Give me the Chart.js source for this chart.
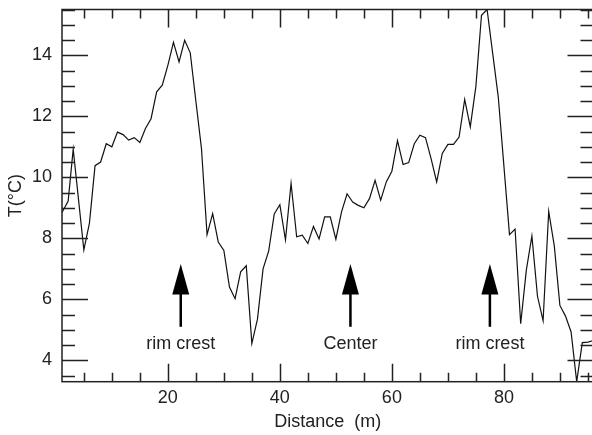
<!DOCTYPE html>
<html>
<head>
<meta charset="utf-8">
<script src="https://cdn.jsdelivr.net/npm/chart.js@4.4.1/dist/chart.umd.min.js"></script>
<style>
  html, body { margin: 0; padding: 0; background: #fff; overflow: hidden; }
  #wrap { position: relative; width: 600px; height: 435px; }
</style>
</head>
<body>
<div id="wrap"><canvas id="chart"></canvas></div>
<script>
// temperature profile across the crater
const distance = [1.1, 2.2, 3.1, 5, 6, 7, 8, 9, 10, 11, 12, 13, 14, 15, 16, 17, 18, 19, 20,
  21, 22, 23, 24, 25, 26, 27, 28, 29, 30, 31, 32, 33, 34, 35, 36, 37, 38, 39, 40,
  41, 42, 43, 44, 45, 46, 47, 48, 49, 50, 51, 52, 53, 54, 55, 56, 57, 58, 59, 60,
  61, 62, 63, 64, 65, 66, 67, 68, 69, 70, 71, 72, 73, 74, 75, 76, 77, 78, 79,
  81, 82, 83, 84, 85, 86, 87, 88, 89, 90, 91, 92, 93, 94, 95, 96];
const temperature = [8.85, 9.22, 10.92, 7.62, 8.5, 10.38, 10.5, 11.1, 11.0, 11.48, 11.4, 11.22, 11.3, 11.14, 11.6, 11.92, 12.8, 13.02, 13.67,
  14.42, 13.78, 14.49, 14.08, 12.5, 10.95, 8.12, 8.81, 7.88, 7.6, 6.4, 6.02, 6.9, 7.1, 4.55, 5.35, 7.0, 7.58, 8.8, 9.1,
  7.95, 9.8, 8.05, 8.1, 7.83, 8.39, 7.98, 8.7, 8.7, 7.97, 8.86, 9.46, 9.19, 9.08, 9.0, 9.3, 9.9, 9.25, 9.85, 10.2,
  11.2, 10.42, 10.48, 11.1, 11.38, 11.3, 10.61, 9.85, 10.78, 11.08, 11.08, 11.32, 12.55, 11.65, 12.98, 15.31, 15.5, 14.06, 12.63,
  8.12, 8.3, 5.2, 6.95, 8.08, 6.1, 5.3, 8.88, 7.75, 5.8, 5.45, 4.93, 3.3, 4.58, 4.6, 4.65];

const xTicks = [20, 40, 60, 80];
const yTicks = [4, 6, 8, 10, 12, 14];

// arrow markers with their captions
const markerX = [22.3, 52.6, 77.5];
const markerLabels = ['rim crest', 'Center', 'rim crest'];

const FONT = "'Liberation Sans', Arial, Helvetica, sans-serif";
const INK = '#222';

// frame, inward ticks on all four sides, arrows and captions
const framePlugin = {
  id: 'frame',
  afterDraw(chart) {
    const { ctx, chartArea: a, scales: { x, y } } = chart;
    ctx.save();
    ctx.strokeStyle = INK;
    ctx.lineWidth = 1.5;
    ctx.strokeRect(a.left, a.top, a.right - a.left, a.bottom - a.top);

    ctx.beginPath();
    for (let v = 5; v <= x.max; v += 5) {
      if (v < x.min) continue;
      const px = Math.round(x.getPixelForValue(v)) + 0.5;
      const len = v % 20 === 0 ? 18 : 9;
      ctx.moveTo(px, a.bottom); ctx.lineTo(px, a.bottom - len);
      ctx.moveTo(px, a.top); ctx.lineTo(px, a.top + len);
    }
    for (let v = 3.5; v <= y.max; v += 0.5) {
      const py = Math.round(y.getPixelForValue(v)) + 0.5;
      const len = v % 2 === 0 ? 26 : 13;
      ctx.moveTo(a.left, py); ctx.lineTo(a.left + len, py);
      ctx.moveTo(a.right, py); ctx.lineTo(a.right - len, py);
    }
    ctx.stroke();

    ctx.fillStyle = '#000';
    ctx.strokeStyle = '#000';
    ctx.font = '18px ' + FONT;
    ctx.textAlign = 'center';
    ctx.textBaseline = 'middle';
    markerX.forEach((v, i) => {
      const px = x.getPixelForValue(v);
      const tip = y.getPixelForValue(7.16);
      const base = y.getPixelForValue(6.16);
      const foot = y.getPixelForValue(5.1);
      ctx.beginPath();
      ctx.moveTo(px, tip);
      ctx.lineTo(px - 8.5, base);
      ctx.lineTo(px + 8.5, base);
      ctx.closePath();
      ctx.fill();
      ctx.lineWidth = 2.5;
      ctx.beginPath();
      ctx.moveTo(px, base - 1);
      ctx.lineTo(px, foot);
      ctx.stroke();
      ctx.fillStyle = INK;
      ctx.fillText(markerLabels[i], px, y.getPixelForValue(4.54));
      ctx.fillStyle = '#000';
    });
    ctx.restore();
  }
};

new Chart(document.getElementById('chart'), {
  type: 'line',
  data: {
    datasets: [{
      data: distance.map((d, i) => ({ x: d, y: temperature[i] })),
      borderColor: '#111',
      borderWidth: 1.2,
      pointRadius: 0,
      tension: 0,
      fill: false
    }]
  },
  options: {
    responsive: true,
    maintainAspectRatio: false,
    animation: false,
    devicePixelRatio: 1,
    layout: { padding: { left: 0, top: 9.5, right: 6.5, bottom: 0 } },
    plugins: { legend: { display: false }, tooltip: { enabled: false } },
    scales: {
      x: {
        type: 'linear',
        min: 1.1,
        max: 96,
        border: { display: false },
        grid: { display: false, drawTicks: false },
        afterBuildTicks: s => { s.ticks = xTicks.map(v => ({ value: v })); },
        afterFit: s => { s.height = 53.3; s.paddingLeft = 0; s.paddingRight = 0; },
        ticks: { padding: 6, color: INK, font: { family: FONT, size: 18 }, maxRotation: 0 },
        title: { display: true, text: 'Distance  (m)', color: INK, font: { family: FONT, size: 18 }, padding: { top: 0, bottom: 2 } }
      },
      y: {
        min: 3.3,
        max: 15.5,
        border: { display: false },
        grid: { display: false, drawTicks: false },
        afterBuildTicks: s => { s.ticks = yTicks.map(v => ({ value: v })); },
        afterFit: s => { s.width = 62; s.paddingTop = 0; s.paddingBottom = 0; },
        ticks: { padding: 10, color: INK, font: { family: FONT, size: 18 } },
        title: { display: true, text: 'T(°C)', color: INK, font: { family: FONT, size: 18 }, padding: { top: 5, bottom: 0 } }
      }
    }
  },
  plugins: [framePlugin]
});
</script>
</body>
</html>
